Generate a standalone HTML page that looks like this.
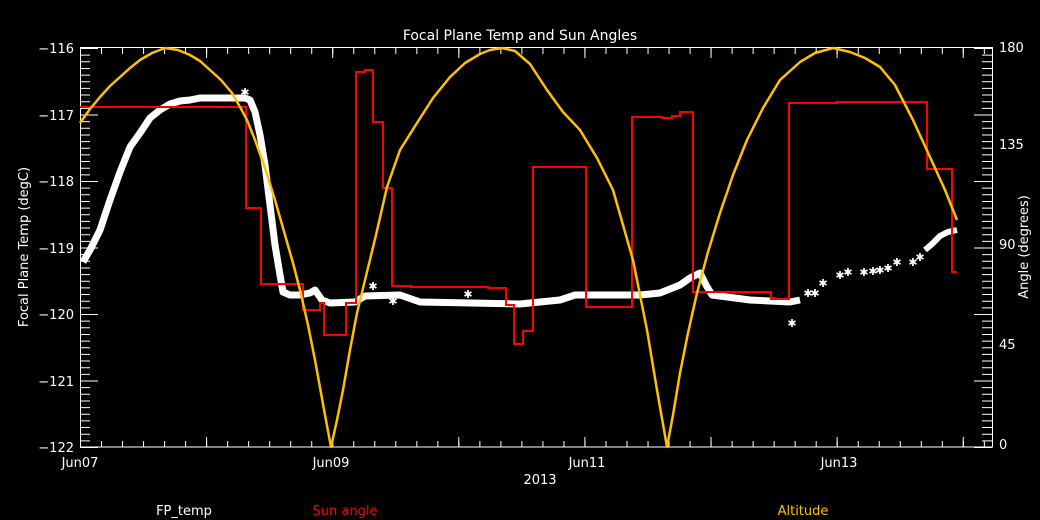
<!DOCTYPE html>
<html><head><style>
html,body{margin:0;padding:0;background:#000;}
svg{display:block;}
text{font-family:"DejaVu Sans","Liberation Sans",sans-serif;}
</style></head><body>
<svg width="1040" height="520" viewBox="0 0 1040 520" xmlns="http://www.w3.org/2000/svg">
<rect width="1040" height="520" fill="#000"/>
<rect x="80.5" y="47.5" width="912" height="399.5" stroke="#fff" stroke-width="1" fill="none"/>
<g stroke="#fff" fill="none">
<!-- bottom/top minor ticks -->
<line x1="80" y1="444" x2="993" y2="444" stroke-width="6" stroke-dasharray="1 20.02"/>
<line x1="80" y1="51" x2="993" y2="51" stroke-width="6" stroke-dasharray="1 20.02"/>
<!-- bottom/top major ticks -->
<line x1="80" y1="442" x2="993" y2="442" stroke-width="10" stroke-dasharray="1 125.1"/>
<line x1="80" y1="53" x2="993" y2="53" stroke-width="10" stroke-dasharray="1 125.1"/>
<!-- left minor/major -->
<line x1="85" y1="48" x2="85" y2="448" stroke-width="10" stroke-dasharray="1 5.65"/>
<line x1="89" y1="48" x2="89" y2="448" stroke-width="18" stroke-dasharray="1 65.5"/>
<!-- right minor/major -->
<line x1="987" y1="48" x2="987" y2="448" stroke-width="10" stroke-dasharray="1 5.65"/>
<line x1="983" y1="48" x2="983" y2="448" stroke-width="18" stroke-dasharray="1 65.5"/>
</g>
<g fill="#fff" font-size="13" text-anchor="end">
<text x="74" y="53">−116</text>
<text x="74" y="120">−117</text>
<text x="74" y="186">−118</text>
<text x="74" y="253">−119</text>
<text x="74" y="319">−120</text>
<text x="74" y="386">−121</text>
<text x="74" y="452">−122</text>
</g>
<g fill="#fff" font-size="13" text-anchor="start">
<text x="999" y="52">180</text>
<text x="999" y="149">135</text>
<text x="999" y="249">90</text>
<text x="999" y="349">45</text>
<text x="999" y="449">0</text>
</g>
<g fill="#fff" font-size="13" text-anchor="middle">
<text x="80" y="467">Jun07</text>
<text x="331" y="467">Jun09</text>
<text x="587" y="467">Jun11</text>
<text x="839" y="467">Jun13</text>
<text x="540" y="484">2013</text>
<text x="520" y="40" font-size="14">Focal Plane Temp and Sun Angles</text>
<text transform="translate(28,247) rotate(-90)" font-size="13">Focal Plane Temp (degC)</text>
<text transform="translate(1028,247) rotate(-90)" font-size="13">Angle (degrees)</text>
<text x="184" y="515">FP_temp</text>
<text x="345" y="515" fill="#ff0000">Sun angle</text>
<text x="803" y="515" fill="#ffc000">Altitude</text>
</g>
<polyline fill="none" stroke="#fff" stroke-width="7" stroke-linejoin="round" points="83,262 90,250 100,230 110,200 120,172 130,147 140,133 150,118 160,110 170,104 180,101 190,100 200,98 245,98 250,100 255,112 260,135 265,165 270,205 275,245 280,275 283,292 290,295 300,295 310,293 315,290 322,300 330,303 355,302 365,296 400,295 420,302 520,304 560,300 575,295 640,295 660,293 680,285 690,278 700,273 706,285 712,295 750,300 790,302 800,300"/>
<g fill="#fff" font-size="11" text-anchor="middle">
<text x="245" y="96">✱</text><text x="792" y="327">✱</text>
<text x="808" y="297">✱</text><text x="815" y="297">✱</text><text x="823" y="287">✱</text>
<text x="840" y="279">✱</text><text x="848" y="276">✱</text><text x="864" y="276">✱</text>
<text x="873" y="275">✱</text><text x="880" y="274">✱</text><text x="888" y="272">✱</text>
<text x="897" y="266">✱</text><text x="913" y="266">✱</text><text x="920" y="261">✱</text>
<text x="393" y="305">✱</text><text x="468" y="298">✱</text><text x="373" y="290">✱</text>
</g>
<polyline fill="none" stroke="#fff" stroke-width="6" points="925,250 932,244 940,236 948,232 957,230"/>
<polyline fill="none" stroke="#ff0000" stroke-width="2" points="80,107 246,107 246,208 261,208 261,284 303,284 303,310 320,310 320,303 324,303 324,335 346,335 346,303 356,303 356,72 365,72 365,70 373,70 373,122 383,122 383,188 392,188 392,286 411,286 411,287 488,287 488,288 506,288 506,305 514,305 514,344 523,344 523,331 533,331 533,167 586,167 586,307 632,307 632,117 662,117 662,118 672,118 672,116 680,116 680,112 693,112 693,292 771,292 771,299 789,299 789,103 837,103 837,102 927,102 927,169 952,169 952,272 957,272"/>
<polyline fill="none" stroke="#ffc000" stroke-width="2.5" stroke-linejoin="round" points="80,123 90,109 100,97 110,86 120,77 130,68 140,60 152,53 165,48 178,50 190,55 200,61 210,70 221,80 232,93 240,107 247,120 255,140 265,168 275,200 285,235 293,263 300,290 308,325 315,360 321,393 325,415 331,447 337,420 343,390 350,350 357,313 366,276 376,235 387,187 400,150 417,123 433,98 450,77 465,63 480,54 490,50 502,48 515,51 530,64 547,90 563,112 580,130 597,158 613,190 623,225 633,260 647,330 657,390 667,447 673,415 680,373 688,333 697,293 708,252 720,213 733,175 747,140 763,108 780,80 800,62 815,53 833,48 850,52 865,58 880,67 895,85 913,120 930,157 945,190 957,220"/>
</svg>
</body></html>
